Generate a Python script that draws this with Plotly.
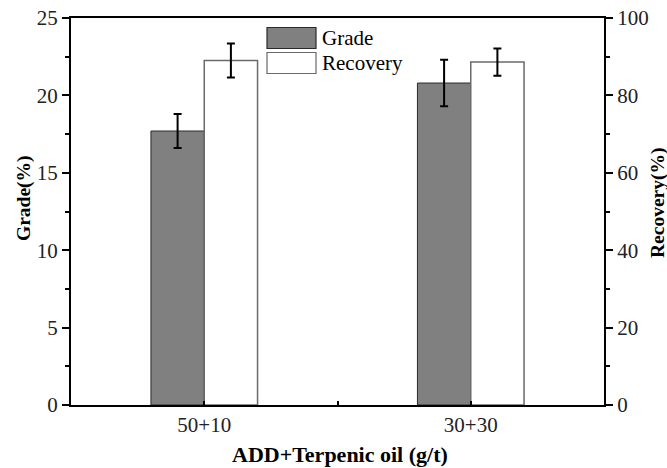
import plotly.graph_objects as go

# Flotation results for two reagent dosages
categories = ["50+10", "30+30"]
grade = [17.7, 20.8]
grade_err = [1.1, 1.5]
recovery = [89.0, 88.6]
recovery_err = [4.4, 3.5]

xpos = list(range(len(categories)))
FONT = "Liberation Serif"

# Plot-area geometry in pixels
W, H = 667, 468
L, R, T, B = 71, 63, 18, 63
PW, PH = W - L - R, H - T - B


def px_x(x):
    return (x - L) / PW


def px_y(y):
    return (H - B - y) / PH


fig = go.Figure()
fig.add_trace(go.Bar(
    x=xpos, y=grade, name="Grade", width=0.2, offset=-0.2,
    marker=dict(color="#808080", line=dict(color="#2a2a2a", width=1)),
    error_y=dict(type="data", array=grade_err, color="black", thickness=2, width=4),
    yaxis="y", showlegend=False,
))
fig.add_trace(go.Bar(
    x=xpos, y=recovery, name="Recovery", width=0.2, offset=0,
    marker=dict(color="white", line=dict(color="#6a6a6a", width=1.5)),
    error_y=dict(type="data", array=recovery_err, color="black", thickness=2, width=4),
    yaxis="y2", showlegend=False,
))

tickfont = dict(family=FONT, size=21, color="#222")
titlefont = dict(family=FONT, size=22, color="black", weight="bold")
ytitlefont = dict(family=FONT, size=19.5, color="black", weight="bold")

fig.update_layout(
    width=W, height=H,
    margin=dict(l=L, r=R, t=T, b=B, autoexpand=False),
    plot_bgcolor="white", paper_bgcolor="white",
    barmode="overlay",
    xaxis=dict(
        range=[-0.5, 1.5], tickvals=[0, 0.5, 1], ticktext=[categories[0], "", categories[1]],
        ticks="inside", ticklen=4, tickwidth=1.5, tickcolor="black",
        showline=True, linecolor="black", linewidth=2, mirror=True,
        showgrid=False, zeroline=False, tickfont=tickfont, automargin=False,
    ),
    yaxis=dict(
        range=[0, 25], dtick=5, ticks="outside", ticklen=7, tickwidth=1.5, tickcolor="black",
        minor=dict(dtick=2.5, ticks="outside", ticklen=4, tickwidth=1.5, tickcolor="black", showgrid=False),
        showline=True, linecolor="black", linewidth=2, automargin=False,
        showgrid=False, zeroline=False, tickfont=tickfont,
    ),
    yaxis2=dict(
        range=[0, 100], dtick=20, overlaying="y", side="right",
        ticks="outside", ticklen=7, tickwidth=1.5, tickcolor="black",
        minor=dict(dtick=10, ticks="outside", ticklen=4, tickwidth=1.5, tickcolor="black", showgrid=False),
        showline=True, linecolor="black", linewidth=2, automargin=False,
        showgrid=False, zeroline=False, tickfont=tickfont,
    ),
)

# Axis titles
fig.add_annotation(xref="paper", yref="paper", x=px_x(340), y=px_y(454),
                   text="ADD+Terpenic oil (g/t)", showarrow=False,
                   xanchor="center", yanchor="middle", font=titlefont)
fig.add_annotation(xref="paper", yref="paper", x=px_x(24), y=px_y(198),
                   text="Grade(%)", textangle=-90, showarrow=False,
                   xanchor="center", yanchor="middle", font=ytitlefont)
fig.add_annotation(xref="paper", yref="paper", x=px_x(658), y=px_y(203),
                   text="Recovery(%)", textangle=-90, showarrow=False,
                   xanchor="center", yanchor="middle", font=ytitlefont)

# Legend drawn as swatches with labels
legend_items = [("Grade", "#808080", "#2a2a2a", 38), ("Recovery", "white", "#6a6a6a", 63)]
for label, fill, edge, ycenter in legend_items:
    fig.add_shape(type="rect", xref="paper", yref="paper",
                  x0=px_x(267), x1=px_x(316),
                  y0=px_y(ycenter + 10.5), y1=px_y(ycenter - 10.5),
                  fillcolor=fill, line=dict(color=edge, width=1.2))
    fig.add_annotation(xref="paper", yref="paper", x=px_x(320), y=px_y(ycenter),
                       text=label, showarrow=False, xanchor="left", yanchor="middle",
                       font=dict(family=FONT, size=21, color="black"))

fig.write_html("out.html")
